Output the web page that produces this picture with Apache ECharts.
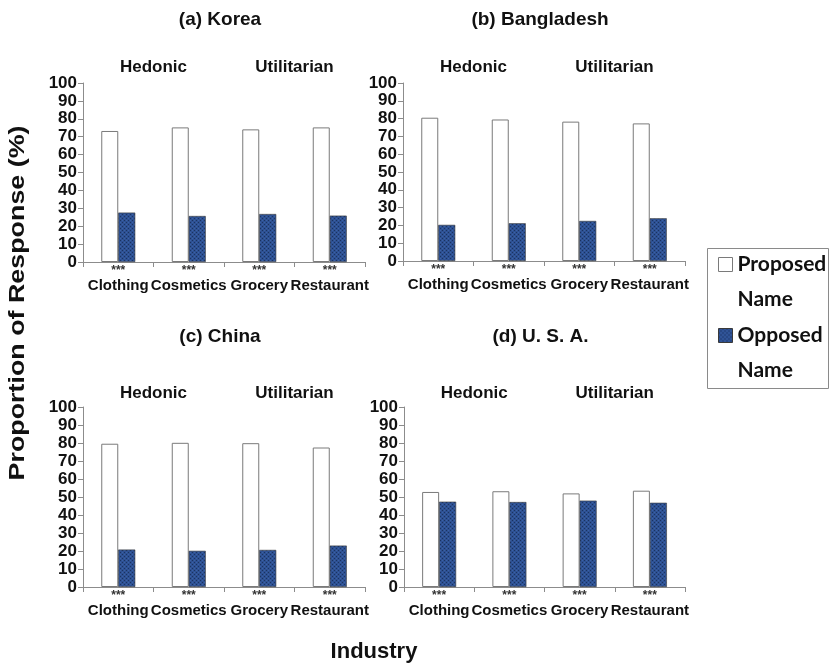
<!DOCTYPE html>
<html>
<head>
<meta charset="utf-8">
<script src="https://cdn.jsdelivr.net/npm/echarts@6/dist/echarts.min.js"></script>
<style>
  html, body { margin: 0; padding: 0; background: #ffffff; }
  #chart { width: 830px; height: 667px; }
</style>
</head>
<body>
<div id="chart"></div>
<script>
// ---- data ----
const categories = ['Clothing', 'Cosmetics', 'Grocery', 'Restaurant'];
const significance = ['***', '***', '***', '***'];
const panelTitles = ['(a) Korea', '(b) Bangladesh', '(c) China', '(d) U. S. A.'];
const groupLabels = ['Hedonic', 'Utilitarian'];
const seriesNames = ['Proposed Name', 'Opposed Name'];
const yTicks = { min: 0, max: 100, interval: 10 };

const koreaProposed      = [73.2, 75.2, 74.1, 75.2];
const koreaOpposed       = [27.6, 25.7, 26.8, 25.9];
const bangladeshProposed = [80.5, 79.5, 78.3, 77.3];
const bangladeshOpposed  = [20.3, 21.2, 22.5, 24.0];
const chinaProposed      = [79.6, 80.1, 79.9, 77.5];
const chinaOpposed       = [20.8, 20.1, 20.6, 23.0];
const usaProposed        = [52.8, 53.2, 52.0, 53.5];
const usaOpposed         = [47.4, 47.2, 48.0, 46.8];

const panels = [
  [koreaProposed, koreaOpposed],
  [bangladeshProposed, bangladeshOpposed],
  [chinaProposed, chinaOpposed],
  [usaProposed, usaOpposed]
];

// ---- layout ----
const grids = [
  { left: 83,  top: 83,  width: 282, height: 179 },
  { left: 403, top: 83,  width: 282, height: 178 },
  { left: 83,  top: 407, width: 282, height: 180 },
  { left: 404, top: 407, width: 281, height: 180 }
];
const FONT = "'Liberation Sans', Arial, sans-serif";
const axisGrey = '#8c8c8c';

// cross-hatched dark blue fill
function hatchPattern() {
  const c = document.createElement('canvas');
  c.width = 4; c.height = 4;
  const g = c.getContext('2d');
  g.fillStyle = '#2d5092';
  g.fillRect(0, 0, 4, 4);
  g.fillStyle = '#1b3360';
  g.fillRect(0, 0, 1, 1);
  g.fillRect(2, 2, 1, 1);
  g.fillStyle = '#3a62a6';
  g.fillRect(2, 0, 1, 1);
  g.fillRect(0, 2, 1, 1);
  return c;
}
const hatch = { image: hatchPattern(), repeat: 'repeat' };

const xAxes = [], yAxes = [], series = [], graphics = [];

grids.forEach((gr, i) => {
  xAxes.push({
    type: 'category',
    gridIndex: i,
    data: categories,
    axisLine: { lineStyle: { color: axisGrey, width: 1 } },
    axisTick: { show: true, length: 5, lineStyle: { color: axisGrey } },
    axisLabel: {
      interval: 0,
      margin: 4,
      color: '#111',
      formatter: (v, idx) => '{s|' + significance[idx] + '}\n{c|' + v + '}',
      rich: {
        s: { fontSize: 12, lineHeight: 10, fontWeight: 'bold', fontFamily: FONT, color: '#333' },
        c: { fontSize: 15, lineHeight: 20, fontWeight: 'bold', fontFamily: FONT, color: '#111' }
      }
    }
  });
  yAxes.push({
    type: 'value',
    gridIndex: i,
    min: yTicks.min, max: yTicks.max, interval: yTicks.interval,
    axisLine: { show: true, lineStyle: { color: axisGrey, width: 1 } },
    axisTick: { show: true, length: 5, lineStyle: { color: axisGrey } },
    splitLine: { show: false },
    axisLabel: { margin: 6, color: '#111', fontSize: 17, fontWeight: 'bold', fontFamily: FONT,
                 showMinLabel: true, showMaxLabel: true, hideOverlap: false }
  });
  series.push({
    name: seriesNames[0], type: 'bar', xAxisIndex: i, yAxisIndex: i,
    data: panels[i][0], barWidth: 17, barGap: '0%',
    itemStyle: { color: '#ffffff', borderColor: '#7a7a7a', borderWidth: 1 }
  });
  series.push({
    name: seriesNames[1], type: 'bar', xAxisIndex: i, yAxisIndex: i,
    data: panels[i][1], barWidth: 17, barGap: '0%',
    itemStyle: { color: hatch, borderColor: '#3a3a3a', borderWidth: 0.6 }
  });

  const step = gr.width / categories.length;
  const titleY = i < 2 ? 20 : 337;
  const groupY = i < 2 ? 67 : 393;
  graphics.push({
    type: 'text', x: gr.left + gr.width / 2 - 4, y: titleY,
    style: { text: panelTitles[i], fontSize: 19, fontWeight: 'bold', fontFamily: FONT,
             fill: '#111', align: 'center', verticalAlign: 'middle' }
  });
  [1, 3].forEach((b, k) => {
    graphics.push({
      type: 'text', x: gr.left + step * b, y: groupY,
      style: { text: groupLabels[k], fontSize: 17, fontWeight: 'bold', fontFamily: FONT,
               fill: '#111', align: 'center', verticalAlign: 'middle' }
    });
  });
});

// shared axis titles
graphics.push({
  type: 'text', x: 18, y: 303, rotation: Math.PI / 2, scaleX: 1.22,
  style: { text: 'Proportion of Response (%)', fontSize: 22, fontWeight: 'bold', fontFamily: FONT,
           fill: '#111', align: 'center', verticalAlign: 'middle' }
});
graphics.push({
  type: 'text', x: 374, y: 652,
  style: { text: 'Industry', fontSize: 22, fontWeight: 'bold', fontFamily: FONT,
           fill: '#111', align: 'center', verticalAlign: 'middle' }
});
// legend frame
graphics.push({
  type: 'rect', shape: { x: 707.5, y: 248.5, width: 121, height: 140 },
  style: { fill: 'none', stroke: '#8a8a8a', lineWidth: 1 }
});

const chart = echarts.init(document.getElementById('chart'), null, { renderer: 'canvas' });
chart.setOption({
  animation: false,
  backgroundColor: '#ffffff',
  grid: grids,
  xAxis: xAxes,
  yAxis: yAxes,
  series: series,
  legend: {
    orient: 'vertical', left: 718, top: 212, padding: 0, itemGap: -34,
    itemWidth: 14, itemHeight: 14, icon: 'rect', selectedMode: false,
    data: seriesNames,
    // leading blank line keeps the swatch level with the first word
    formatter: n => '\n' + n.replace(' ', '\n'),
    textStyle: { fontSize: 21, fontWeight: 'bold', fontFamily: "Lato, 'Liberation Sans', sans-serif",
                 color: '#111', lineHeight: 35 },
    itemStyle: { borderWidth: 1 }
  },
  graphic: graphics
});
</script>
</body>
</html>
